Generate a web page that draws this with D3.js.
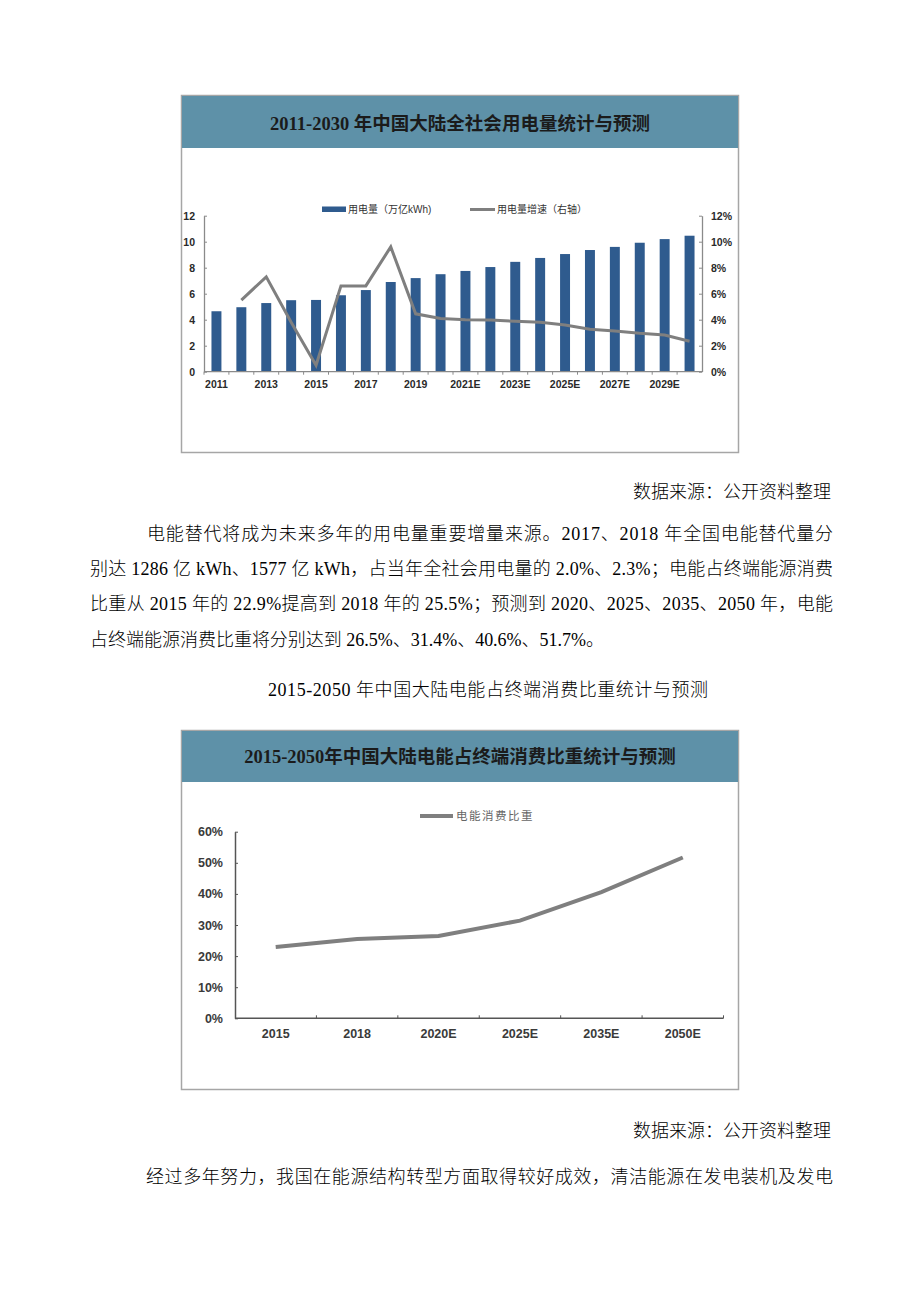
<!DOCTYPE html>
<html>
<head>
<meta charset="utf-8">
<script src="https://cdn.jsdelivr.net/npm/d3@7"></script>
<style>
  html, body { margin: 0; padding: 0; background: #fff; }
  svg { display: block; }
</style>
</head>
<body>
<svg id="page" width="920" height="1302"></svg>
<script>
// ---------- DATA ----------
const years = ["2011","2012","2013","2014","2015","2016","2017","2018","2019","2020",
               "2021E","2022E","2023E","2024E","2025E","2026E","2027E","2028E","2029E","2030E"];
const consumption = [4.65, 4.96, 5.28, 5.50, 5.52, 5.88, 6.28, 6.90, 7.20, 7.50,
                     7.75, 8.05, 8.45, 8.75, 9.05, 9.36, 9.60, 9.92, 10.20, 10.46];
const growth = [null, 5.5, 7.3, 3.8, 0.5, 6.6, 6.6, 9.6, 4.45, 4.1,
                4.0, 3.98, 3.88, 3.8, 3.6, 3.26, 3.13, 2.95, 2.82, 2.34];
const leftTicks = [0, 2, 4, 6, 8, 10, 12];
const rightTicks = [0, 2, 4, 6, 8, 10, 12];
const legend1 = ["用电量（万亿kWh)", "用电量增速（右轴）"];
const title1 = "2011-2030 年中国大陆全社会用电量统计与预测";

const shareCats = ["2015", "2018", "2020E", "2025E", "2035E", "2050E"];
const shareVals = [22.9, 25.5, 26.5, 31.4, 40.6, 51.7];
const shareTicks = [0, 10, 20, 30, 40, 50, 60];
const legend2 = "电能消费比重";
const title2 = "2015-2050年中国大陆电能占终端消费比重统计与预测";

const sourceText = "数据来源：公开资料整理";
const paraLines = [
  "电能替代将成为未来多年的用电量重要增量来源。2017、2018 年全国电能替代量分",
  "别达 1286 亿 kWh、1577 亿 kWh，占当年全社会用电量的 2.0%、2.3%；电能占终端能源消费",
  "比重从 2015 年的 22.9%提高到 2018 年的 25.5%；预测到 2020、2025、2035、2050 年，电能",
  "占终端能源消费比重将分别达到 26.5%、31.4%、40.6%、51.7%。"
];
const caption2 = "2015-2050 年中国大陆电能占终端消费比重统计与预测";
const lastLine = "经过多年努力，我国在能源结构转型方面取得较好成效，清洁能源在发电装机及发电";

// ---------- STYLE ----------
const BAR = "#2f5b8e";
const LINE = "#7f7f7f";
const BAND = "#5e91a8";
const FRAME = "#a6a6a6";
const AXIS = "#8a8a8a";
const SERIF = "'Liberation Serif', 'Noto Sans CJK SC', serif";
const SANS = "'Liberation Sans', Arial, 'Noto Sans CJK SC', sans-serif";

const svg = d3.select("#page");

// ---------- CHART 1 ----------
const c1 = svg.append("g");
c1.append("rect").attr("x", 181.5).attr("y", 95.5).attr("width", 557).attr("height", 357)
  .attr("fill", "#fff").attr("stroke", FRAME).attr("stroke-width", 1.5);
c1.append("rect").attr("x", 182).attr("y", 96).attr("width", 556).attr("height", 52).attr("fill", BAND);
c1.append("text").attr("x", 460).attr("y", 124).attr("dy", "0.35em").attr("text-anchor", "middle")
  .attr("font-family", SERIF).attr("font-weight", "bold").attr("font-size", 18.5).attr("fill", "#1b1b1b")
  .text(title1);

const x1 = d3.scaleBand().domain(years).range([204, 702]).paddingInner(0.6).paddingOuter(0.3);
const yL = d3.scaleLinear().domain([0, 12]).range([371.7, 215.7]);
const yR = d3.scaleLinear().domain([0, 12]).range([371.7, 215.7]);

// bars
c1.append("g").selectAll("rect").data(years).join("rect")
  .attr("x", d => x1(d)).attr("width", x1.bandwidth())
  .attr("y", (d, i) => yL(consumption[i])).attr("height", (d, i) => yL(0) - yL(consumption[i]))
  .attr("fill", BAR);

// left axis
const axL = c1.append("g").attr("transform", "translate(204,0)")
  .call(d3.axisLeft(yL).tickValues(leftTicks).tickSize(-3).tickPadding(9).tickSizeOuter(0));
// right axis
const axR = c1.append("g").attr("transform", "translate(702,0)")
  .call(d3.axisRight(yR).tickValues(rightTicks).tickSize(-3).tickPadding(9).tickSizeOuter(0)
        .tickFormat(d => d + "%"));
[axL, axR].forEach(a => {
  a.select(".domain").attr("stroke", AXIS).attr("stroke-width", 1.3);
  a.selectAll(".tick line").attr("stroke", AXIS);
  a.selectAll("text").attr("font-family", SANS).attr("font-size", 10.5).attr("font-weight", "bold").attr("fill", "#2a2a2a");
});

// x axis
const xAx1 = c1.append("g");
xAx1.append("line").attr("x1", 204).attr("x2", 702).attr("y1", yL(0)).attr("y2", yL(0))
  .attr("stroke", AXIS).attr("stroke-width", 1.3);
xAx1.selectAll("line.tk").data(years).join("line").attr("class", "tk")
  .attr("x1", d => x1(d) - x1.step() * 0.3).attr("x2", d => x1(d) - x1.step() * 0.3)
  .attr("y1", yL(0)).attr("y2", yL(0) + 3).attr("stroke", AXIS);
xAx1.selectAll("text").data(years.filter((d, i) => i % 2 === 0)).join("text")
  .attr("x", d => x1(d) + x1.bandwidth() / 2).attr("y", 384).attr("dy", "0.35em")
  .attr("text-anchor", "middle").attr("font-family", SANS).attr("font-size", 10.5)
  .attr("font-weight", "bold").attr("fill", "#2a2a2a")
  .text(d => d);

// growth line
const lineGen1 = d3.line().defined(d => d.v != null)
  .x(d => x1(d.k) + x1.bandwidth() / 2).y(d => yR(d.v));
c1.append("path").datum(years.map((k, i) => ({k, v: growth[i]})))
  .attr("d", lineGen1).attr("fill", "none").attr("stroke", LINE).attr("stroke-width", 3)
  .attr("stroke-linejoin", "miter");

// legend
c1.append("rect").attr("x", 322).attr("y", 206.5).attr("width", 24).attr("height", 5.5).attr("fill", BAR);
c1.append("text").attr("x", 348).attr("y", 209.5).attr("dy", "0.35em").attr("font-family", SANS)
  .attr("font-size", 10).attr("fill", "#333").text(legend1[0]);
c1.append("line").attr("x1", 470).attr("x2", 495).attr("y1", 209.5).attr("y2", 209.5)
  .attr("stroke", LINE).attr("stroke-width", 3);
c1.append("text").attr("x", 497).attr("y", 209.5).attr("dy", "0.35em").attr("font-family", SANS)
  .attr("font-size", 10).attr("fill", "#333").text(legend1[1]);

// ---------- TEXT ----------
const T = svg.append("g").attr("font-family", SERIF).attr("font-size", 18).attr("font-weight", 300).attr("fill", "#000");
T.append("text").attr("x", 831).attr("y", 492).attr("dy", "0.35em").attr("text-anchor", "end").text(sourceText);
const lineY = [534, 569, 604, 640];
const lineX = [147, 90, 90, 90];
const lineEnd = [833, 833, 833, 604];
paraLines.forEach((t, i) => {
  T.append("text").attr("x", lineX[i]).attr("y", lineY[i]).attr("dy", "0.35em")
    .attr("textLength", lineEnd[i] - lineX[i]).attr("lengthAdjust", "spacing").text(t);
});
T.append("text").attr("x", 268).attr("y", 690).attr("dy", "0.35em")
  .attr("textLength", 440).attr("lengthAdjust", "spacing").text(caption2);
T.append("text").attr("x", 831).attr("y", 1131).attr("dy", "0.35em").attr("text-anchor", "end").text(sourceText);
T.append("text").attr("x", 146).attr("y", 1177).attr("dy", "0.35em")
  .attr("textLength", 833 - 146).attr("lengthAdjust", "spacing").text(lastLine);

// ---------- CHART 2 ----------
const c2 = svg.append("g");
c2.append("rect").attr("x", 181.5).attr("y", 730.5).attr("width", 557).attr("height", 359)
  .attr("fill", "#fff").attr("stroke", FRAME).attr("stroke-width", 1.5);
c2.append("rect").attr("x", 182).attr("y", 731).attr("width", 556).attr("height", 51).attr("fill", BAND);
c2.append("text").attr("x", 460).attr("y", 757).attr("dy", "0.35em").attr("text-anchor", "middle")
  .attr("font-family", SERIF).attr("font-weight", "bold").attr("font-size", 18.5).attr("fill", "#1b1b1b")
  .text(title2);

const x2 = d3.scaleBand().domain(shareCats).range([235, 723.5]).padding(0);
const y2 = d3.scaleLinear().domain([0, 60]).range([1018.3, 831.7]);

const ax2 = c2.append("g").attr("transform", "translate(235,0)")
  .call(d3.axisLeft(y2).tickValues(shareTicks).tickSize(-3).tickPadding(12).tickSizeOuter(0)
        .tickFormat(d => d + "%"));
ax2.select(".domain").attr("stroke", "#555").attr("stroke-width", 1.5);
ax2.selectAll(".tick line").attr("stroke", "#555");
ax2.selectAll("text").attr("font-family", SANS).attr("font-size", 12.5).attr("font-weight", "bold").attr("fill", "#3a3a3a");

const xAx2 = c2.append("g");
xAx2.append("line").attr("x1", 235).attr("x2", 723.5).attr("y1", y2(0)).attr("y2", y2(0))
  .attr("stroke", "#555").attr("stroke-width", 1.5);
xAx2.selectAll("line.tk").data(shareCats).join("line").attr("class", "tk")
  .attr("x1", d => x2(d) + x2.bandwidth()).attr("x2", d => x2(d) + x2.bandwidth())
  .attr("y1", y2(0)).attr("y2", y2(0) - 3).attr("stroke", "#555");
xAx2.selectAll("text").data(shareCats).join("text")
  .attr("x", d => x2(d) + x2.bandwidth() / 2).attr("y", 1034).attr("dy", "0.35em")
  .attr("text-anchor", "middle").attr("font-family", SANS).attr("font-size", 12.5)
  .attr("font-weight", "bold").attr("fill", "#3a3a3a")
  .text(d => d);

c2.append("path").datum(shareCats.map((k, i) => ({k, v: shareVals[i]})))
  .attr("d", d3.line().x(d => x2(d.k) + x2.bandwidth() / 2).y(d => y2(d.v)))
  .attr("fill", "none").attr("stroke", LINE).attr("stroke-width", 4);

c2.append("line").attr("x1", 420).attr("x2", 453).attr("y1", 816).attr("y2", 816)
  .attr("stroke", LINE).attr("stroke-width", 4);
c2.append("text").attr("x", 456).attr("y", 816).attr("dy", "0.35em").attr("font-family", SANS)
  .attr("font-size", 11.5).attr("letter-spacing", 1.5).attr("fill", "#666").text(legend2);
</script>
</body>
</html>
